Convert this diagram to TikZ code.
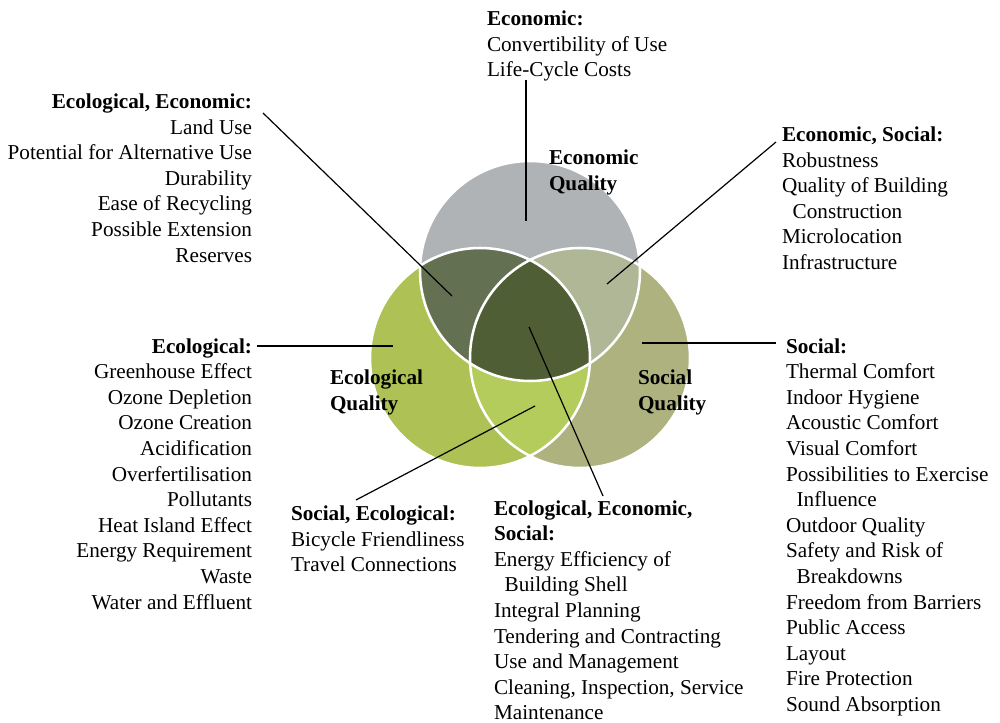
\documentclass[tikz,border=0pt]{standalone}
\usepackage{fontspec}
\setmainfont{Liberation Serif}
\newcommand\fsz{\fontsize{15.9}{19.2}\selectfont}
\definecolor{cEcon}{HTML}{B0B3B5}
\definecolor{cEcol}{HTML}{ADC154}
\definecolor{cSoc}{HTML}{ADB27E}
\definecolor{cEconEcol}{HTML}{637152}
\definecolor{cEconSoc}{HTML}{B0B797}
\definecolor{cEcolSoc}{HTML}{B4CC5B}
\definecolor{cAll}{HTML}{4F5E35}
\tikzset{
  lbl/.style={inner sep=0pt, outer sep=0pt, font=\fsz},
  lblL/.style={lbl, align=left, anchor=north west},
  lblR/.style={lbl, align=right, anchor=north east},
  conn/.style={draw=black, line width=0.9pt},
  ring/.style={draw=white, line width=1.9pt}
}
\begin{document}
\begin{tikzpicture}[x=0.75pt, y=-0.75pt]
\useasboundingbox (0,0) rectangle (1000,723);
% circles
\def\R{110}
\fill[cEcon] (530,271) circle (\R);
\fill[cEcol] (480,358) circle (\R);
\fill[cSoc] (580,358) circle (\R);
\begin{scope}
  \clip (530,271) circle (\R);
  \fill[cEconEcol] (480,358) circle (\R);
  \fill[cEconSoc] (580,358) circle (\R);
\end{scope}
\begin{scope}
  \clip (480,358) circle (\R);
  \fill[cEcolSoc] (580,358) circle (\R);
\end{scope}
\begin{scope}
  \clip (530,271) circle (\R);
  \clip (480,358) circle (\R);
  \fill[cAll] (580,358) circle (\R);
\end{scope}
\draw[ring] (530,271) circle (\R);
\draw[ring] (480,358) circle (\R);
\draw[ring] (580,358) circle (\R);
% circle labels
\node[lblL, font=\fsz\bfseries] (qEcon) at (549,146.6) {\strut Economic\\Quality};
\node[lblL, font=\fsz\bfseries] (qEcol) at (330,366.6) {\strut Ecological\\Quality};
\node[lblL, font=\fsz\bfseries] (qSoc) at (638,366.6) {\strut Social\\Quality};
% text blocks
\node[lblL] (tEcon) at (487,7.6) {\strut\textbf{Economic:}\\Convertibility of Use\\Life-Cycle Costs};
\node[lblR] (tEcolEcon) at (252,90.6) {\strut\textbf{Ecological, Economic:}\\Land Use\\Potential for Alternative Use\\Durability\\Ease of Recycling\\Possible Extension\\Reserves};
\node[lblL] (tEconSoc) at (782,123.6) {\strut\textbf{Economic, Social:}\\Robustness\\Quality of Building\\\hspace*{8pt}Construction\\Microlocation\\Infrastructure};
\node[lblR] (tEcol) at (252,335.1) {\strut\textbf{Ecological:}\\Greenhouse Effect\\Ozone Depletion\\Ozone Creation\\Acidification\\Overfertilisation\\Pollutants\\Heat Island Effect\\Energy Requirement\\Waste\\Water and Effluent};
\node[lblL] (tSoc) at (786,335.1) {\strut\textbf{Social:}\\Thermal Comfort\\Indoor Hygiene\\Acoustic Comfort\\Visual Comfort\\Possibilities to Exercise\\\hspace*{8pt}Influence\\Outdoor Quality\\Safety and Risk of\\\hspace*{8pt}Breakdowns\\Freedom from Barriers\\Public Access\\Layout\\Fire Protection\\Sound Absorption};
\node[lblL] (tSocEcol) at (291,502.6) {\strut\textbf{Social, Ecological:}\\Bicycle Friendliness\\Travel Connections};
\node[lblL] (tAll) at (494,497.1) {\strut\textbf{Ecological, Economic,}\\\textbf{Social:}\\Energy Efficiency of\\\hspace*{8pt}Building Shell\\Integral Planning\\Tendering and Contracting\\Use and Management\\Cleaning, Inspection, Service\\Maintenance};
% connector end points
\coordinate (aEcon) at (526,80);   \coordinate (bEcon) at (526,221);
\coordinate (aEcolEcon) at (263,113); \coordinate (bEcolEcon) at (452,296);
\coordinate (aEconSoc) at (776,142); \coordinate (bEconSoc) at (607,284);
\coordinate (aEcol) at (257,346);  \coordinate (bEcol) at (393,346);
\coordinate (aSoc) at (776,343);   \coordinate (bSoc) at (642,343);
\coordinate (aSocEcol) at (356,500); \coordinate (bSocEcol) at (535,406);
\coordinate (aAll) at (603,496);   \coordinate (bAll) at (529,327);
\draw[conn] (aEcon) -- (bEcon);
\draw[conn] (aEcolEcon) -- (bEcolEcon);
\draw[conn] (aEconSoc) -- (bEconSoc);
\draw[conn] (aEcol) -- (bEcol);
\draw[conn] (aSoc) -- (bSoc);
\draw[conn] (aSocEcol) -- (bSocEcol);
\draw[conn] (aAll) -- (bAll);
\end{tikzpicture}
\end{document}
